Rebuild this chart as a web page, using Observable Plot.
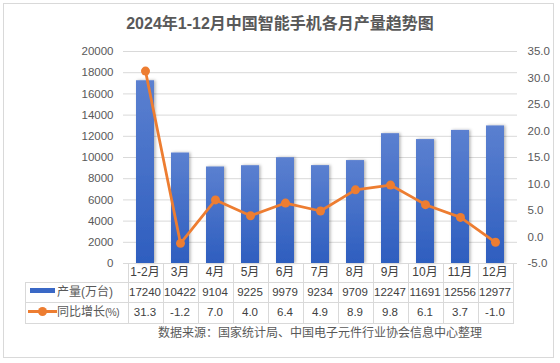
<!DOCTYPE html>
<html><head><meta charset="utf-8">
<script src="https://cdn.jsdelivr.net/npm/d3@7"></script>
<script src="https://cdn.jsdelivr.net/npm/@observablehq/plot@0.6"></script>
<style>
body{margin:0;background:#fff;}
#wrap{position:relative;width:560px;height:363px;font-family:"Liberation Sans","Noto Sans CJK SC",sans-serif;color:#595959;overflow:hidden;background:#fff;}
#frame{position:absolute;left:3px;top:3px;width:549px;height:353px;border:1px solid #d9d9d9;}
#title{position:absolute;left:0;top:12px;width:560px;text-align:center;font-size:16px;font-weight:bold;line-height:24px;color:#595959;}
#plot{position:absolute;left:0;top:36px;}
#plot svg{overflow:visible;}
.ln{position:absolute;background:#d9d9d9;}
.cell{position:absolute;text-align:center;white-space:nowrap;color:#404040;}
#source{position:absolute;left:120px;top:324px;width:400px;text-align:center;font-size:12px;line-height:18px;color:#595959;white-space:nowrap;}
</style>
</head><body>
<div id="wrap">
  <div id="frame"></div>
  <div id="title"></div>
  <div id="plot"></div>
  <div id="source"></div>
</div>
<script>
const titleText = "2024年1-12月中国智能手机各月产量趋势图";
const sourceText = "数据来源：国家统计局、中国电子元件行业协会信息中心整理";
const categories = ["1-2月","3月","4月","5月","6月","7月","8月","9月","10月","11月","12月"];
const production = [17240,10422,9104,9225,9979,9234,9709,12247,11691,12556,12977];
const yoyGrowth = [31.3,-1.2,7.0,4.0,6.4,4.9,8.9,9.8,6.1,3.7,-1.0];
const leftTicks = [0,2000,4000,6000,8000,10000,12000,14000,16000,18000,20000];
const rightTicks = [-5,0,5,10,15,20,25,30,35];
const seriesNames = ["产量(万台)","同比增长"];
const pctSuffix = "(%)";

const leftMax = 20000, rightMin = -5, rightMax = 35;
const toLeft = p => (p - rightMin) / (rightMax - rightMin) * leftMax;
const fromLeft = v => v / leftMax * (rightMax - rightMin) + rightMin;

const data = categories.map((c, i) => ({cat: c, prod: production[i], yoy: yoyGrowth[i]}));

document.getElementById("title").textContent = titleText;
document.getElementById("source").textContent = sourceText;

const font = '"Liberation Sans","Noto Sans CJK SC",sans-serif';
const chart = Plot.plot({
  width: 560, height: 235,
  marginTop: 15, marginBottom: 8, marginLeft: 123, marginRight: 43,
  style: {fontFamily: font, fontSize: "11.5px", color: "#595959", background: "transparent", overflow: "visible"},
  x: {domain: categories, paddingInner: 0.5, paddingOuter: 0.25, axis: null},
  y: {domain: [0, leftMax], axis: null},
  marks: [
    Plot.gridY(leftTicks, {stroke: "#d9d9d9", strokeOpacity: 1, strokeWidth: 1}),
    Plot.axisY({anchor: "left", ticks: leftTicks, tickSize: 0, tickPadding: 10, tickFormat: d => String(d), label: null, fill: "#595959"}),
    Plot.axisY({anchor: "right", ticks: rightTicks.map(toLeft), tickSize: 0, tickPadding: 10, tickFormat: d => fromLeft(d).toFixed(1), label: null, fill: "#595959", textAnchor: "start"}),
    Plot.barY(data, {x: "cat", y: "prod", fill: "url(#barGrad)"}),
    Plot.line(data, {x: "cat", y: d => toLeft(d.yoy), stroke: "#ed7d31", strokeWidth: 2.75, strokeLinejoin: "round"}),
    Plot.dot(data, {x: "cat", y: d => toLeft(d.yoy), r: 4.5, fill: "#ed7d31", stroke: "none"})
  ]
});

const svg = d3.select(chart);
const defs = svg.insert("defs", ":first-child");
const g = defs.append("linearGradient").attr("id", "barGrad").attr("gradientUnits", "objectBoundingBox").attr("x1", 0).attr("y1", 0).attr("x2", 0).attr("y2", 1);
g.append("stop").attr("offset", "0%").attr("stop-color", "#5b80d0");
g.append("stop").attr("offset", "100%").attr("stop-color", "#2e5ebf");
const f = defs.append("filter").attr("id", "shadow").attr("x", "-50%").attr("y", "-10%").attr("width", "200%").attr("height", "120%");
f.append("feDropShadow").attr("dx", 1.5).attr("dy", 0).attr("stdDeviation", 1.8).attr("flood-color", "#000").attr("flood-opacity", 0.3);
svg.select('g[aria-label="bar"]').attr("filter", "url(#shadow)");

document.getElementById("plot").appendChild(chart);

// data table aligned with the x scale
const xs = chart.scale("x");
const step = xs.step, bw = xs.bandwidth;
const wrap = document.getElementById("wrap");
const colLeft = categories.map(c => xs.apply(c) - (step - bw) / 2);
const tableLeft = 25, firstCol = colLeft[0], tableRight = colLeft[colLeft.length - 1] + step;
const rowY = [263, 282, 302, 323];

function line(x, y, w, h) {
  const d = document.createElement("div");
  d.className = "ln";
  Object.assign(d.style, {left: x + "px", top: y + "px", width: w + "px", height: h + "px"});
  wrap.appendChild(d);
}
function cell(text, x, y, w, h, size) {
  const d = document.createElement("div");
  d.className = "cell";
  Object.assign(d.style, {left: x + "px", top: y + "px", width: w + "px", height: h + "px", lineHeight: h + "px", fontSize: size + "px"});
  d.textContent = text;
  wrap.appendChild(d);
  return d;
}
line(firstCol, rowY[0], tableRight - firstCol + 1, 1);
for (let r = 1; r < 4; r++) line(tableLeft, rowY[r], tableRight - tableLeft + 1, 1);
line(tableLeft, rowY[1], 1, rowY[3] - rowY[1] + 1);
for (let k = 0; k <= categories.length; k++) {
  const x = Math.round(firstCol + k * step);
  line(x, rowY[0], 1, rowY[3] - rowY[0] + 1);
}
categories.forEach((c, i) => {
  cell(c, colLeft[i], rowY[0], step, rowY[1] - rowY[0], 12);
  cell(String(production[i]), colLeft[i], rowY[1], step, rowY[2] - rowY[1], 11.5);
  cell(yoyGrowth[i].toFixed(1), colLeft[i], rowY[2], step, rowY[3] - rowY[2], 11.5);
});
// legend keys in label column
const sw = document.createElement("div");
Object.assign(sw.style, {position: "absolute", left: "30px", top: "288px", width: "25px", height: "5px", background: "#3a68c6"});
wrap.appendChild(sw);
const ol = document.createElement("div");
Object.assign(ol.style, {position: "absolute", left: "28px", top: "310px", width: "29px", height: "3px", background: "#ed7d31"});
wrap.appendChild(ol);
const od = document.createElement("div");
Object.assign(od.style, {position: "absolute", left: "38px", top: "307px", width: "9px", height: "9px", borderRadius: "50%", background: "#ed7d31"});
wrap.appendChild(od);
const l1 = cell(seriesNames[0], 57, rowY[1], 62, rowY[2] - rowY[1], 12);
l1.style.textAlign = "left"; l1.style.color = "#595959";
const l2 = cell(seriesNames[1], 57, rowY[2], 64, rowY[3] - rowY[2], 12);
l2.style.textAlign = "left"; l2.style.color = "#595959";
const sfx = document.createElement("span");
sfx.textContent = pctSuffix;
sfx.style.fontSize = "10px";
sfx.style.letterSpacing = "-0.5px";
l2.appendChild(sfx);
</script>
</body></html>
